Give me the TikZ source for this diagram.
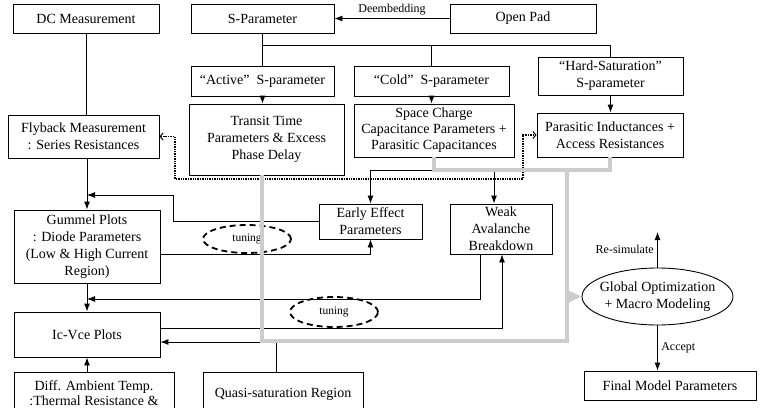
\documentclass[tikz,border=0pt]{standalone}
\usepackage{fontspec}
\setmainfont{Liberation Serif}
\usetikzlibrary{arrows.meta}
\usetikzlibrary{shapes.geometric}
\usetikzlibrary{calc}
\newcommand{\boxfont}{\fontsize{14}{17}\selectfont}
\newcommand{\labfont}{\fontsize{12}{14}\selectfont}

\begin{document}
\begin{tikzpicture}[x=1pt,y=-1pt,
	blk/.style={draw,line width=0.9pt,inner sep=0pt,align=center,font=\boxfont},
	arr/.style={line width=0.9pt,-{Latex[length=8pt,width=6pt]}},
	dotline/.style={line width=1.9pt,dash pattern=on 1.5pt off 0.9pt,
		{Straight Barb[length=3pt,width=7pt,line width=1pt]}-{Straight Barb[length=3pt,width=7pt,line width=1pt]}},
	grayline/.style={line width=4pt,gray!40},
	tun/.style={ellipse,draw,line width=1.8pt,dash pattern=on 6pt off 4pt,inner sep=0pt,
		font=\fontsize{11.5}{13}\selectfont}]
		\useasboundingbox (0,0) rectangle (763,407);
		
		% measurements
		\node[blk,minimum width=146pt,minimum height=29pt] (dc) at (86,18.5) {DC Measurement};
		\node[blk,minimum width=143pt,minimum height=29pt] (spar) at (262.5,18.5) {S-Parameter};
		\node[blk,minimum width=146pt,minimum height=29pt] (pad) at (523,18.5) {Open Pad};
		\node[blk,minimum width=143pt,minimum height=30pt] (act) at (262.5,81) {“Active”\enspace S-parameter};
		\node[blk,minimum width=155pt,minimum height=30pt] (cold) at (431.5,81) {“Cold”\enspace S-parameter};
		\node[blk,minimum width=145pt,minimum height=38pt] (hard) at (610.5,76) {“Hard-Saturation”\\S-parameter};
		
		% extracted parameters
		\node[blk,minimum width=155pt,minimum height=71pt] (transit) at (266.5,139.5) {Transit Time\\Parameters \& Excess\\Phase Delay};
		\node[blk,minimum width=160pt,minimum height=53pt,font=\fontsize{14}{16}\selectfont] (space) at (434,130.5) {Space Charge\\Capacitance Parameters +\\Parasitic Capacitances};
		\node[blk,minimum width=146pt,minimum height=44pt] (paras) at (610,135) {Parasitic Inductances +\\Access Resistances};
		\node[blk,minimum width=151pt,minimum height=43pt] (fly) at (83.5,136.5) {Flyback Measurement\\: Series Resistances};
		\node[blk,minimum width=146pt,minimum height=73pt] (gummel) at (87,246.5) {Gummel Plots\\: Diode Parameters\\(Low \& High Current\\Region)};
		\node[blk,minimum width=103pt,minimum height=35pt] (early) at (370.5,221.5) {Early Effect\\Parameters};
		\node[blk,minimum width=102pt,minimum height=50pt] (weak) at (501,229) {Weak\\Avalanche\\Breakdown};
		\node[blk,minimum width=146pt,minimum height=45pt] (icvce) at (87,334.5) {Ic-Vce Plots};
		\node[blk,anchor=north,minimum width=160pt,inner ysep=8pt,font=\fontsize{14}{15}\selectfont] (diff) at (94,372) {Diff. Ambient Temp.\\:Thermal Resistance \&};
		\node[blk,anchor=north,minimum width=160pt,minimum height=44pt] (quasi) at (283,372) {Quasi-saturation Region};
		\node[ellipse,draw,line width=0.9pt,minimum width=151pt,minimum height=57pt,inner xsep=-8pt,inner ysep=0pt,
			align=center,font=\boxfont] (glob) at (657.5,296.5) {Global Optimization\\+ Macro Modeling};
		\node[blk,minimum width=172pt,minimum height=29pt] (final) at (670,385.5) {Final Model Parameters};
		\node[tun,minimum width=88pt,minimum height=28pt] (tune1) at (247,239) {tuning};
		\node[tun,minimum width=88pt,minimum height=30pt] (tune2) at (334,312) {tuning};
		
		% top branch
		\draw[arr] (pad.west) -- node[above,font=\labfont] {Deembedding} (spar.east);
		\coordinate (sbus) at (262.5,45);
		\draw[line width=0.9pt] (spar.south) -- (act.north);
		\draw[line width=0.9pt] (sbus) -| (cold.north);
		\draw[line width=0.9pt] (sbus) -| (hard.north);
		\draw[arr] (act.south) -- (act.south |- transit.north);
		\draw[arr] (cold.south) -- (cold.south |- space.north);
		\draw[arr] (hard.south) -- (hard.south |- paras.north);
		
		% dc chain
		\draw[line width=0.9pt] (dc.south) -- (dc.south |- fly.north);
		\draw[arr] (gummel.north |- fly.south) -- (gummel.north);
		\draw[arr] (gummel.south) -- (icvce.north);
		\draw[arr] (icvce.south |- diff.north) -- (icvce.south);
		
		% dotted link
		\coordinate (dl) at (175,179);
		\coordinate (dr) at (523,179);
		\draw[dotline] (fly.east) -| (dl) -- (dr) |- (paras.west);
		
		% feedback loops
		\coordinate (gb) at (434,170);
		\draw[arr] (gb) -| (early.north);
		\draw[arr] ([xshift=-7pt]weak.north |- gb) -- ([xshift=-7pt]weak.north);
		\coordinate (k1) at (173,195);
		\draw[arr] (early.west) -| (k1) -- (gummel.north |- k1);
		\draw[arr] ([yshift=-7.5pt]gummel.east) -| (early.south);
		\coordinate (k3) at (480,299);
		\draw[arr] (weak.south -| k3) -- (k3) -- (icvce.north |- k3);
		\draw[arr] ([yshift=6.5pt]icvce.east) -| ([xshift=1pt]weak.south);
		\draw[arr] ([xshift=-7pt]quasi.north) |- ([yshift=-7.5pt]icvce.east);
		
		% gray bus
		\coordinate (gc) at (567,170);
		\coordinate (gd) at (567,341);
		\draw[grayline] (space.south) -- (gb) -| (paras.south);
		\draw[grayline] ([xshift=-4.5pt]transit.south) |- (gd) -- (gc);
		\draw[grayline,-{Triangle[length=15pt,width=13pt]}] ([xshift=-2pt]gd |- glob.west) -- (glob.west);
		
		% optimization
		\coordinate (resim) at (657.5,232);
		\draw[arr] (glob.north) -- node[left,font=\labfont] {Re-simulate} (resim);
		\draw[arr] (glob.south) -- node[right,font=\labfont] {Accept} (glob.south |- final.north);
		
\end{tikzpicture}
\end{document}
